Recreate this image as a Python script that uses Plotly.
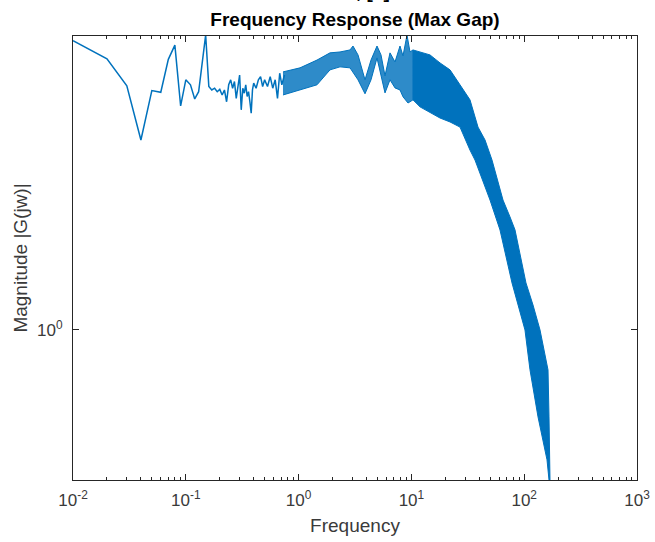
import math
import plotly.graph_objects as go

# ---- data ----
# sparse low-frequency samples of the response
f_low = [0.01, 0.02, 0.03, 0.04, 0.05, 0.06, 0.07, 0.08, 0.09, 0.10, 0.11, 0.12, 0.13, 0.14, 0.15,
         0.16, 0.17, 0.18, 0.19, 0.20, 0.21, 0.22, 0.23, 0.24, 0.25, 0.26, 0.27, 0.28, 0.29, 0.30,
         0.31, 0.32, 0.33, 0.34, 0.35, 0.36, 0.37, 0.38, 0.39, 0.40, 0.42, 0.44, 0.46, 0.48, 0.50,
         0.53, 0.56, 0.59, 0.62, 0.65, 0.68, 0.71, 0.75]
mag_low = [7.09, 6.27, 5.22, 3.62, 5.06, 5.00, 6.25, 6.88, 4.56, 5.44, 5.26, 4.78, 5.02, 6.22, 7.37,
           5.20, 5.08, 5.14, 5.02, 5.10, 4.91, 5.08, 4.69, 5.26, 5.44, 5.14, 5.38, 4.80, 5.20, 5.62,
           4.44, 5.14, 4.97, 5.26, 4.86, 5.02, 4.69, 4.34, 5.08, 5.32, 5.14, 5.44, 5.56, 5.20, 5.44,
           5.20, 5.56, 5.14, 5.44, 4.80, 5.69, 5.26, 5.62]

# dense mid-frequency region: upper / lower envelope of the noisy trace
f_mid_up = [0.727, 1.029, 1.456, 1.898, 2.328, 2.856, 3.035, 3.362, 3.879, 4.384, 4.955, 5.377,
            5.834, 6.462, 7.155, 7.923, 8.425, 9.142, 9.719, 10.33]
mag_mid_up = [5.74, 5.90, 6.22, 6.53, 6.57, 6.66, 6.84, 6.44, 5.44, 6.22, 6.84, 6.44,
              5.59, 6.53, 6.14, 6.84, 6.40, 7.37, 6.57, 6.66]
f_mid_lo = [0.727, 1.029, 1.456, 1.898, 2.328, 2.856, 3.362, 3.879, 4.384, 4.955, 5.377, 5.834,
            6.462, 7.155, 7.923, 8.425, 9.331, 10.33]
mag_mid_lo = [4.91, 5.08, 5.26, 5.82, 5.94, 5.90, 5.44, 4.95, 5.44, 6.31, 5.59, 4.98,
              5.44, 5.15, 5.08, 4.85, 4.65, 4.75]

# dense high-frequency roll-off: upper / lower envelope
f_hi_up = [10.33, 11.92, 14.62, 17.93, 21.99, 26.97, 33.07, 38.94, 44.94, 51.84, 64.88, 74.84,
           82.86, 103.7, 119.7, 138.1, 162.6, 165.9, 169.3, 169.3]
mag_hi_up = [6.66, 6.57, 6.44, 6.10, 5.82, 5.26, 4.75, 3.95, 3.62, 3.16, 2.41, 2.15,
             1.97, 1.375, 1.184, 1.0, 0.763, 0.555, 0.415, 0.362]
f_hi_lo = [10.33, 11.92, 14.62, 17.93, 21.99, 26.97, 33.07, 36.63, 49.77, 61.03, 77.96, 101.6,
           112.6, 132.6, 159.3, 165.9]
mag_hi_lo = [4.75, 4.53, 4.35, 4.20, 4.09, 3.95, 3.38, 3.16, 2.41, 1.968, 1.375, 1.0,
             0.763, 0.555, 0.415, 0.362]

x_tick_vals = [0.01, 0.1, 1, 10, 100, 1000]
x_tick_text = ["10<sup>-2</sup>", "10<sup>-1</sup>", "10<sup>0</sup>", "10<sup>1</sup>",
               "10<sup>2</sup>", "10<sup>3</sup>"]
y_tick_vals = [1]
y_tick_text = ["10<sup>0</sup>"]
y_min, y_max = 0.362, 7.32

BLUE = "#0072BD"
AX = "#262626"
TXT = "#3a3a3a"
FONT = "Liberation Sans, Arial, Helvetica, sans-serif"

W, H = 655, 542

fig = go.Figure()

fig.add_trace(go.Scatter(
    x=f_mid_up + f_mid_lo[::-1], y=mag_mid_up + mag_mid_lo[::-1],
    mode="lines", fill="toself", fillcolor="rgba(0,114,189,0.82)",
    line=dict(color=BLUE, width=1), hoverinfo="skip", showlegend=False))
fig.add_trace(go.Scatter(
    x=f_hi_up + f_hi_lo[::-1], y=mag_hi_up + mag_hi_lo[::-1],
    mode="lines", fill="toself", fillcolor=BLUE,
    line=dict(color=BLUE, width=1), hoverinfo="skip", showlegend=False))
fig.add_trace(go.Scatter(
    x=f_low, y=mag_low, mode="lines",
    line=dict(color=BLUE, width=1.5), showlegend=False))

fig.update_layout(
    width=W, height=H,
    margin=dict(l=73, r=18, t=36, b=62),
    paper_bgcolor="white", plot_bgcolor="white",
    font=dict(family=FONT, color=TXT, size=13),
    title=dict(text="<b>Frequency Response (Max Gap)</b>", x=0.5, xref="paper",
               y=1 - 19 / H, yref="container", yanchor="middle",
               font=dict(family=FONT, size=19, color="#000000")),
    xaxis=dict(type="log", range=[-2, 3], showgrid=False, zeroline=False, automargin=False,
               showline=True, linecolor=AX, linewidth=1, mirror="ticks",
               ticks="inside", ticklen=6, tickcolor=AX, tickwidth=1,
               tickvals=x_tick_vals, ticktext=x_tick_text, ticklabelstandoff=5,
               ticklabeloverflow="allow",
               tickfont=dict(size=17, color=TXT),
               minor=dict(ticks="inside", ticklen=3, tickcolor=AX, dtick="D1", showgrid=False),
               title=dict(text="Frequency", font=dict(size=19, color=TXT), standoff=9)),
    yaxis=dict(type="log", range=[math.log10(y_min), math.log10(y_max)], showgrid=False,
               zeroline=False, showline=True, linecolor=AX, linewidth=1, mirror="ticks",
               automargin=False,
               ticks="inside", ticklen=6, tickcolor=AX, tickwidth=1,
               tickvals=y_tick_vals, ticktext=y_tick_text, ticklabelstandoff=6,
               tickfont=dict(size=17, color=TXT),
               title=dict(text="Magnitude |G(jw)|", font=dict(size=19, color=TXT), standoff=4)),
)

# cut-off title of the panel above (only its lowest pixels are visible)
fig.add_annotation(text="<b>Time, [s]</b>", xref="paper", yref="paper",
                   x=(392 - 73) / 564, y=1.101, xanchor="right", yanchor="middle",
                   showarrow=False, font=dict(family=FONT, size=19, color="#000000"))

# remove the page's default body margin so the figure fills the window exactly
fig.write_html("out.html",
               config={"displayModeBar": False},
               post_script="document.body.style.margin='0';"
                           "document.documentElement.style.overflow='hidden';")
